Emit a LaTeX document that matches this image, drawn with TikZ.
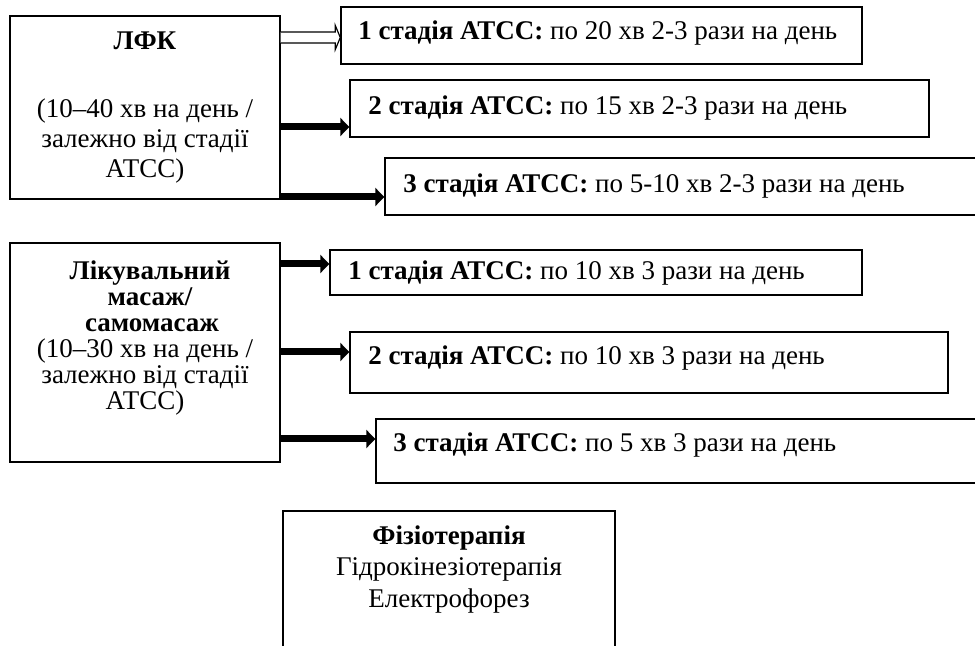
\documentclass[tikz,border=0pt]{standalone}
\usepackage{fontspec}
\setmainfont{Liberation Serif}
\usetikzlibrary{calc,fit,arrows.meta}
\newcommand{\dfs}{\fontsize{13.5pt}{16pt}\selectfont}
\begin{document}
\begin{tikzpicture}[x=0.5pt,y=-0.5pt,
  frame/.style={draw, line width=0.7pt, inner sep=0pt, fit={#1}},
  t/.style={anchor=base, inner sep=0pt, font=\dfs},
  tb/.style={anchor=base, inner sep=0pt, font=\dfs\bfseries},
  tl/.style={anchor=base west, inner sep=0pt, font=\dfs},
  fat/.style={line width=3.5pt, -{Triangle[length=4.5pt,width=9pt]}}]
\useasboundingbox (0,0) rectangle (975,646);
\clip (0,0) rectangle (975,646);
% boxes
\node[frame={(10,16) (280,199)}] (lfk) {};
\node[frame={(10,243) (280,462)}] (mas) {};
\node[frame={(283,511) (615,690)}] (fiz) {};
\node[frame={(341,7) (862,64)}] (b1) {};
\node[frame={(350,80) (929,137)}] (b2) {};
\node[frame={(385,158) (995,215)}] (b3) {};
\node[frame={(330,250) (862,295)}] (c1) {};
\node[frame={(350,332) (948,393)}] (c2) {};
\node[frame={(376,419) (995,483)}] (c3) {};
% left box texts
\node[tb] (lfk0) at (145,50) {ЛФК};
\node[t] (lfk1) at (145,118) {(10–40 хв на день /};
\node[t] (lfk2) at (145,148) {залежно від стадії};
\node[t] (lfk3) at (145,178) {АТСС)};
\node[tb] (mas0) at (150,280) {Лікувальний};
\node[tb] (mas1) at (150,306) {масаж/};
\node[tb] (mas2) at (152,332) {самомасаж};
\node[t] (mas3) at (145,358) {(10–30 хв на день /};
\node[t] (mas4) at (145,384) {залежно від стадії};
\node[t] (mas5) at (145,410) {АТСС)};
% physiotherapy
\node[tb] (fiz0) at (449,545) {Фізіотерапія};
\node[t] (fiz1) at (449,575) {Гідрокінезіотерапія};
\node[t] (fiz2) at (449,607) {Електрофорез};
% right texts
\node[tl] (b1t) at (358,40) {\textbf{1 стадія АТСС:} по 20 хв 2-3 рази на день};
\node[tl] (b2t) at (368,115) {\textbf{2 стадія АТСС:} по 15 хв 2-3 рази на день};
\node[tl] (b3t) at (403,193) {\textbf{3 стадія АТСС:} по 5-10 хв 2-3 рази на день};
\node[tl] (c1t) at (348,280) {\textbf{1 стадія АТСС:} по 10 хв 3 рази на день};
\node[tl] (c2t) at (368,365) {\textbf{2 стадія АТСС:} по 10 хв 3 рази на день};
\node[tl] (c3t) at (393,452) {\textbf{3 стадія АТСС:} по 5 хв 3 рази на день};
% hollow arrow
\coordinate (h0) at (lfk.east |- 0,37.5);
\coordinate (h1) at (b1.west |- 0,37.5);
\draw[line width=0.6pt, fill=white, line join=miter] ($(h0)+(0,-5.5)$) -- ($(h1)+(-5,-5.5)$) -- ($(h1)+(-5,-12)$) -- (h1) -- ($(h1)+(-5,12)$) -- ($(h1)+(-5,5.5)$) -- ($(h0)+(0,5.5)$);
% filled arrows
\draw[fat] (lfk.east |- 0,127) -- (b2.west |- 0,127);
\draw[fat] (lfk.east |- 0,197) -- (b3.west |- 0,197);
\draw[fat] (mas.east |- 0,264) -- (c1.west |- 0,264);
\draw[fat] (mas.east |- 0,352) -- (c2.west |- 0,352);
\draw[fat] (mas.east |- 0,439) -- (c3.west |- 0,439);
\end{tikzpicture}
\end{document}
